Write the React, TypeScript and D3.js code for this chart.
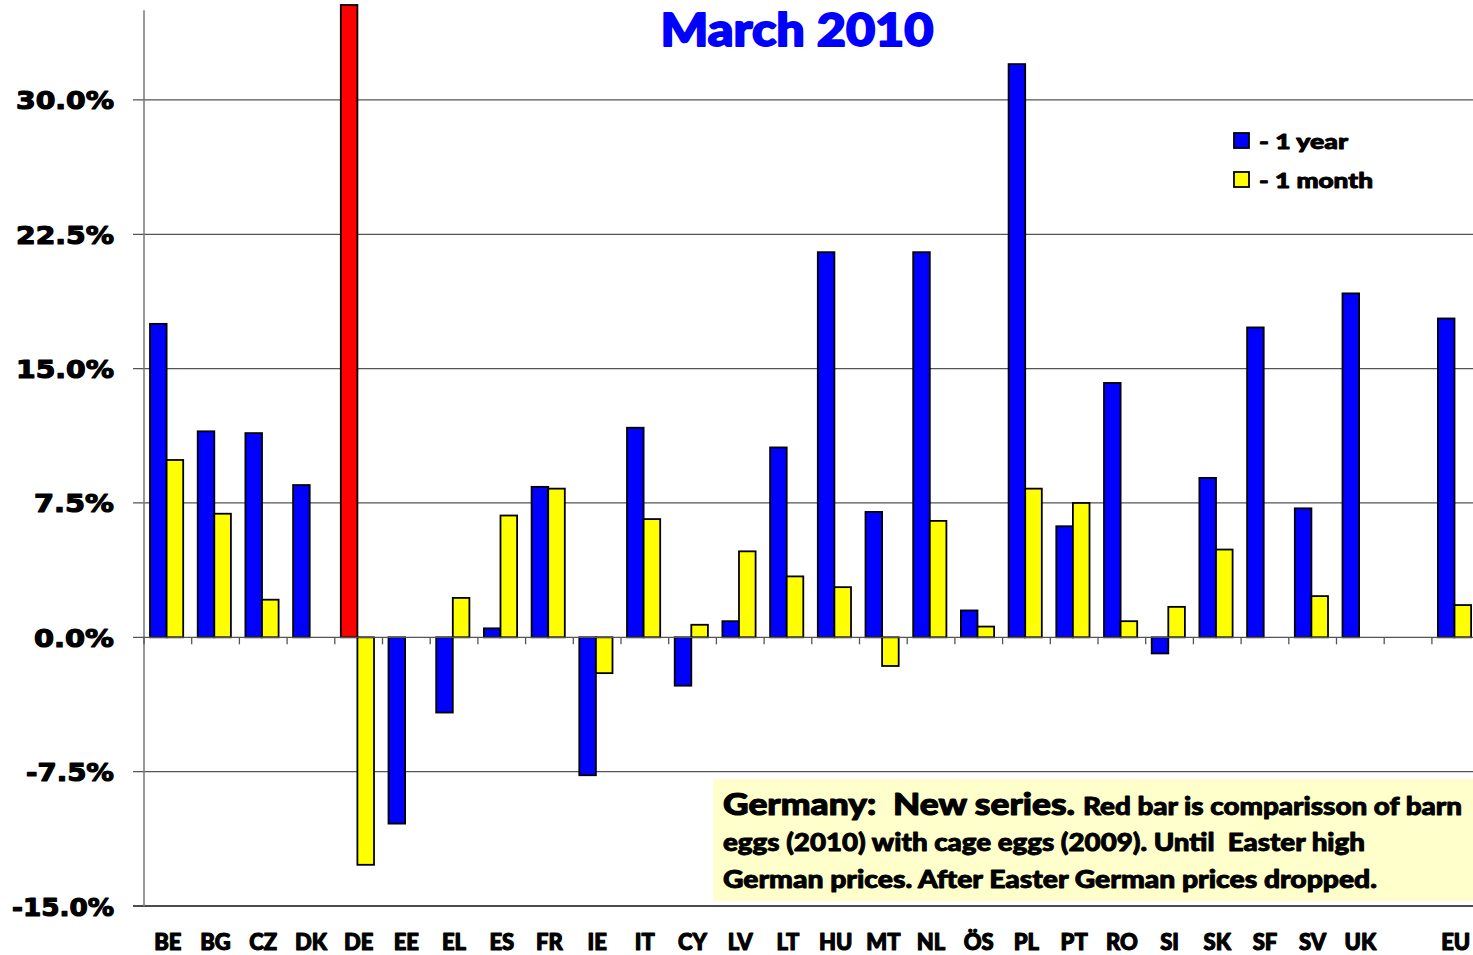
import React from "react";
import * as d3 from "d3";

const categories = ["BE","BG","CZ","DK","DE","EE","EL","ES","FR","IE","IT","CY","LV","LT","HU","MT","NL","ÖS","PL","PT","RO","SI","SK","SF","SV","UK","","EU"];
const oneYear: (number | null)[] = [17.5,11.5,11.4,8.5,null,-10.4,-4.2,0.5,8.4,-7.7,11.7,-2.7,0.9,10.6,21.5,7.0,21.5,1.5,32.0,6.2,14.2,-0.9,8.9,17.3,7.2,19.2,null,17.8];
const oneMonth: (number | null)[] = [9.9,6.9,2.1,null,-12.7,null,2.2,6.8,8.3,-2.0,6.6,0.7,4.8,3.4,2.8,-1.6,6.5,0.6,8.3,7.5,0.9,1.7,4.9,null,2.3,null,null,1.8];
// Germany new series (barn 2010 vs cage 2009) — exceeds the visible axis
const germanyBarnVsCage = { category: "DE", value: 40 };
const yTicks = [-15, -7.5, 0, 7.5, 15, 22.5, 30];
const title = "March 2010";
const legendLabels = ["- 1 year", "- 1 month"];
const noteLines = [
  ["Germany:  New series.", "Red bar is comparisson of barn"],
  ["eggs (2010) with cage eggs (2009). Until  Easter high"],
  ["German prices. After Easter German prices dropped."],
];

const W = 1473, H = 955;
const BLUE = "#0000FF", YELLOW = "#FFFF00", RED = "#FF0000";
const FONT = "Lato, 'Open Sans', sans-serif";

export default function App() {
  const x = d3.scaleBand<string>().domain(categories.map((c, i) => i + ":" + c)).range([144, 144 + 28 * 47.7]).padding(0);
  const key = (i: number) => i + ":" + categories[i];
  const bw = x.bandwidth();
  const x1 = d3.scaleBand<string>().domain(["year", "month"]).range([6, 6 + 33.2]).padding(0);
  const y = d3.scaleLinear().domain([-15, 35.3]).range([906, 5]).clamp(true);
  const barW = x1.bandwidth();

  const bar = (i: number, v: number | null, series: string, fill: string, k: string) => {
    if (v === null) return null;
    const x0 = (x(key(i)) as number) + (x1(series) as number);
    const yTop = y(Math.max(0, v));
    const yBot = y(Math.min(0, v));
    return <rect key={k} x={x0} y={yTop} width={barW} height={yBot - yTop} fill={fill} stroke="#000" strokeWidth={1.8} />;
  };

  const deIdx = categories.indexOf(germanyBarnVsCage.category);
  const heavy = (col: string, w = 0.9) => ({ stroke: col, strokeWidth: w, paintOrder: "stroke" as const, strokeLinejoin: "round" as const });

  return (
    <svg width={W} height={H} style={{ position: "absolute", left: 0, top: 0, display: "block", background: "#fff" }} fontFamily={FONT}>
      {/* grid lines */}
      {yTicks.filter(t => t !== 0).map(t => (
        <line key={"g" + t} x1={133} x2={W} y1={y(t)} y2={y(t)} stroke={t === -15 ? "#111" : "#555"} strokeWidth={1.3} />
      ))}
      {/* y axis */}
      <line x1={144} x2={144} y1={y(35)} y2={y(-15)} stroke="#777" strokeWidth={1.5} />
      {/* y tick labels */}
      {yTicks.map(t => (
        <text key={"t" + t} x={114} y={y(t) + 9.5} textAnchor="end" fontFamily="'DejaVu Sans', sans-serif" fontWeight={700} fontSize={25} fill="#000"
          {...heavy("#000", 1.2)}
          textLength={t === -15 ? 102 : t === 30 || t === 22.5 || t === 15 ? 98 : t === -7.5 ? 88 : 80} lengthAdjust="spacingAndGlyphs">
          {(t).toFixed(1) + "%"}
        </text>
      ))}
      {/* note box */}
      <rect x={713} y={779} width={W - 713} height={122} fill="#FFFFCC" />
      <text x={723} y={815} fontWeight={900} fontSize={31} fill="#000" {...heavy("#000", 1.1)} textLength={352} lengthAdjust="spacingAndGlyphs" style={{ whiteSpace: "pre" }}>{noteLines[0][0]}</text>
      <text x={1083} y={815} fontWeight={900} fontSize={24} fill="#000" {...heavy("#000")} textLength={379} lengthAdjust="spacingAndGlyphs">{noteLines[0][1]}</text>
      <text x={723} y={851} fontWeight={900} fontSize={24} fill="#000" {...heavy("#000")} textLength={642} lengthAdjust="spacingAndGlyphs" style={{ whiteSpace: "pre" }}>{noteLines[1][0]}</text>
      <text x={723} y={888} fontWeight={900} fontSize={24} fill="#000" {...heavy("#000")} textLength={654} lengthAdjust="spacingAndGlyphs">{noteLines[2][0]}</text>
      {/* bars */}
      {categories.map((c, i) => bar(i, oneYear[i], "year", BLUE, "y" + i))}
      {bar(deIdx, germanyBarnVsCage.value, "year", RED, "de")}
      {categories.map((c, i) => bar(i, oneMonth[i], "month", YELLOW, "m" + i))}
      {/* zero line and category ticks */}
      <line x1={133} x2={W} y1={y(0)} y2={y(0)} stroke="#555" strokeWidth={1.3} />
      {d3.range(categories.length + 1).map(k => (
        <line key={"ct" + k} x1={144 + k * bw} x2={144 + k * bw} y1={y(0)} y2={y(0) + 7} stroke="#555" strokeWidth={1.3} />
      ))}
      {/* x labels */}
      {categories.map((c, i) => (
        <text key={"xl" + i} x={(x(key(i)) as number) + bw / 2} y={950} textAnchor="middle" fontWeight={900} fontSize={22} fill="#000" {...heavy("#000", 1.1)}>{c}</text>
      ))}
      {/* title */}
      <text x={797} y={46} textAnchor="middle" fontWeight={900} fontSize={45} fill={BLUE} {...heavy(BLUE, 1.8)} textLength={273} lengthAdjust="spacingAndGlyphs">{title}</text>
      {/* legend */}
      {[BLUE, YELLOW].map((col, i) => (
        <g key={"lg" + i}>
          <rect x={1234} y={133 + i * 39} width={15} height={15} fill={col} stroke="#000" strokeWidth={1.8} />
          <text x={1259} y={149 + i * 39} fontWeight={900} fontSize={21} fill="#000" {...heavy("#000")} textLength={i === 0 ? 89 : 114} lengthAdjust="spacingAndGlyphs">{legendLabels[i]}</text>
        </g>
      ))}
    </svg>
  );
}
